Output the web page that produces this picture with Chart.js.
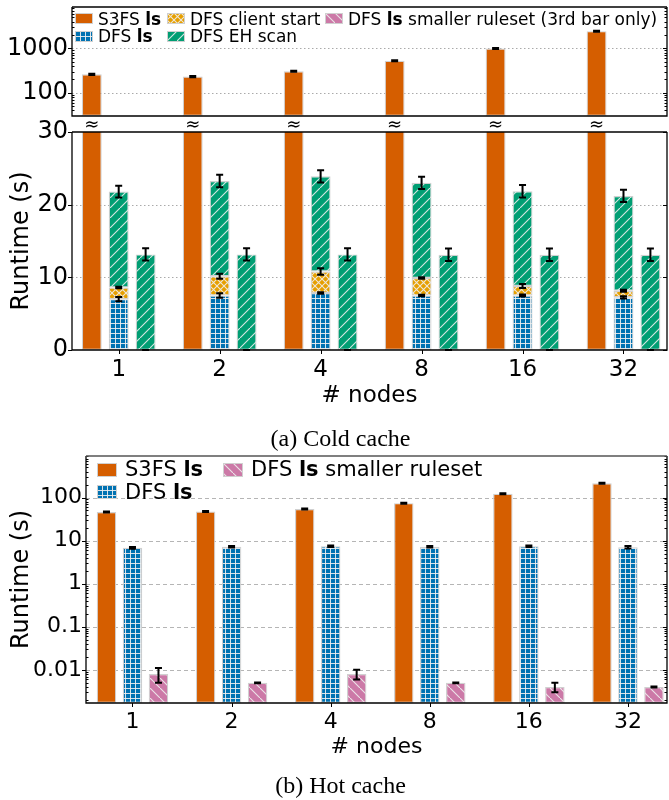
<!DOCTYPE html>
<html>
<head>
<meta charset="utf-8">
<script src="https://cdn.jsdelivr.net/npm/chart.js@4.4.1/dist/chart.umd.min.js"></script>
<style>
  html, body { margin: 0; padding: 0; background: #fff; }
  #page { position: relative; width: 669px; height: 800px; overflow: hidden; font-family: "DejaVu Sans", sans-serif; }
  #page canvas { position: absolute; left: 0; }
  .leg { position: absolute; white-space: nowrap; color: #000; z-index: 2; }
  .cap { position: absolute; left: 6px; width: 669px; text-align: center; font-family: "Liberation Serif", serif; font-size: 24px; line-height: 28px; color: #000; }
</style>
</head>
<body>
<div id="page">
  <canvas id="coldTop" width="669" height="120" style="top:0"></canvas>
  <canvas id="coldMain" width="669" height="300" style="top:118px"></canvas>
  <div class="cap" style="top:424px">(a) Cold cache</div>
  <canvas id="hot" width="669" height="312" style="top:448px"></canvas>
  <div class="cap" style="top:771px">(b) Hot cache</div>
</div>
<script>
const nodes = ['1', '2', '4', '8', '16', '32'];

// (a) cold cache, seconds
const coldS3fs = [261, 232, 305, 530, 1000, 2455];
const coldS3fsErr = [8, 7, 8, 14, 25, 60];
const coldDfsLs = [7.0, 7.5, 7.85, 7.5, 7.5, 7.25];
const coldDfsLsErr = [0.3, 0.3, 0.1, 0.1, 0.15, 0.15];
const coldClientStart = [1.6, 2.65, 2.95, 2.4, 1.3, 0.9];
const coldClientStartErr = [0.1, 0.35, 0.45, 0.1, 0.27, 0.15];
const coldEhScan = [13.2, 13.1, 13.1, 13.1, 13.05, 13.05];
const coldEhScanErr = [0.8, 0.85, 0.85, 0.85, 0.85, 0.85];
const coldSmall = [0.008, 0.005, 0.008, 0.005, 0.004, 0.004];
const coldSmallErr = [0.003, 0.0002, 0.002, 0.0002, 0.001, 0.0002];
const coldEhScan3 = [13.15, 13.15, 13.15, 13.1, 13.1, 13.1];
const coldEhScan3Err = [0.85, 0.85, 0.85, 0.85, 0.85, 0.85];

// (b) hot cache, seconds
const hotS3fs = [46, 47.5, 54, 74, 122, 215];
const hotS3fsErr = [1.2, 1.2, 1.5, 2, 3, 6];
const hotDfsLs = [6.8, 7.2, 7.4, 7.2, 7.4, 7.0];
const hotDfsLsErr = [0.35, 0.3, 0.3, 0.3, 0.3, 0.45];
const hotSmall = [0.008, 0.005, 0.008, 0.005, 0.004, 0.004];
const hotSmallErr = [0.003, 0.0001, 0.002, 0.0001, 0.001, 0.0001];

const topTicks = [100, 1000];
const topTickLabels = ['100', '1000'];
const midTicks = [0, 10, 20, 30];
const midTickLabels = ['0', '10', '20', '30'];
const hotTicks = [0.01, 0.1, 1, 10, 100];
const hotTickLabels = ['0.01', '0.1', '1', '10', '100'];

const C_ORANGE = '#d55e00', C_BLUE = '#0072b2', C_YELLOW = '#e69f00', C_GREEN = '#009e73', C_PINK = '#cc79a7';
const EDGE = '#d0d0d0';
const HATCH = 'rgba(240,240,240,0.9)';
const FONT = 'DejaVu Sans';

function makeHatch(color, kind) {
  const s = kind === 'grid' ? 5 : kind === 'cross' ? 7 : 10;
  const t = document.createElement('canvas');
  t.width = s; t.height = s;
  const g = t.getContext('2d');
  g.fillStyle = color;
  g.fillRect(0, 0, s, s);
  g.fillStyle = HATCH;
  g.strokeStyle = HATCH;
  g.lineWidth = 1.1;
  if (kind === 'grid') {
    g.fillRect(0, 0, s, 1);
    g.fillRect(0, 0, 1, s);
  } else {
    g.beginPath();
    if (kind === 'fwd' || kind === 'cross') { g.moveTo(-1, s + 1); g.lineTo(s + 1, -1); }
    if (kind === 'back' || kind === 'cross') { g.moveTo(-1, -1); g.lineTo(s + 1, s + 1); }
    g.stroke();
  }
  return g.createPattern(t, 'repeat');
}

const fills = {
  orange: C_ORANGE,
  blue: makeHatch(C_BLUE, 'grid'),
  yellow: makeHatch(C_YELLOW, 'cross'),
  green: makeHatch(C_GREEN, 'fwd'),
  pink: makeHatch(C_PINK, 'back'),
};

function pts(arr) {
  return arr.map((v, i) => ({ x: i, y: v }));
}

function ds(label, data, errs, fill, stack, cp, bp) {
  return {
    label, data: pts(data), errs, stack,
    backgroundColor: fill, borderColor: EDGE, borderWidth: 1.2, borderSkipped: false,
    categoryPercentage: cp, barPercentage: bp, clip: 0,
  };
}

function coldSets() {
  return [
    ds('S3FS ls', coldS3fs, coldS3fsErr, fills.orange, 'a', 0.8, 0.74),
    ds('DFS ls', coldDfsLs, coldDfsLsErr, fills.blue, 'b', 0.8, 0.74),
    ds('DFS client start', coldClientStart, coldClientStartErr, fills.yellow, 'b', 0.8, 0.74),
    ds('DFS EH scan', coldEhScan, coldEhScanErr, fills.green, 'b', 0.8, 0.74),
    ds('DFS ls smaller ruleset (3rd bar only)', coldSmall, coldSmallErr, fills.pink, 'c', 0.8, 0.74),
    ds('DFS EH scan', coldEhScan3, coldEhScan3Err, fills.green, 'c', 0.8, 0.74),
  ];
}

function minorValues(s) {
  const out = [];
  if (s.type !== 'logarithmic') return out;
  for (let e = Math.floor(Math.log10(s.min)); e <= Math.ceil(Math.log10(s.max)); e++) {
    for (let m = 2; m <= 9; m++) {
      const v = m * Math.pow(10, e);
      if (v > s.min && v < s.max) out.push(v);
    }
  }
  return out;
}

// grid, frame, tick marks, error bars and the axis-break marks
const panelDeco = {
  id: 'panelDeco',
  beforeDatasetsDraw(chart, args, o) {
    const { ctx, chartArea: a, scales: { y } } = chart;
    ctx.save();
    ctx.strokeStyle = o.gridColor;
    ctx.lineWidth = 1;
    ctx.setLineDash(o.dash);
    y.ticks.forEach(t => {
      const py = Math.round(y.getPixelForValue(t.value)) + 0.5;
      if (py < a.top + 1 || py > a.bottom - 1) return;
      ctx.beginPath(); ctx.moveTo(a.left, py); ctx.lineTo(a.right, py); ctx.stroke();
    });
    ctx.restore();
  },
  afterDatasetsDraw(chart, args, o) {
    const { ctx, chartArea: a, scales: { x, y } } = chart;
    const sets = chart.data.datasets;
    ctx.save();
    ctx.setLineDash([]);
    // error bars
    ctx.strokeStyle = '#000';
    ctx.lineWidth = 2;
    sets.forEach((set, d) => {
      const meta = chart.getDatasetMeta(d);
      set.data.forEach((p, i) => {
        let top = 0;
        for (let k = 0; k <= d; k++) if (sets[k].stack === set.stack) top += sets[k].data[i].y;
        if (top < y.min || top > y.max) return;
        const e = set.errs[i];
        const px = meta.data[i].x;
        const y1 = y.getPixelForValue(Math.max(top - e, y.min));
        const y2 = y.getPixelForValue(Math.min(top + e, y.max));
        ctx.beginPath();
        ctx.moveTo(px, y1); ctx.lineTo(px, y2);
        ctx.moveTo(px - 3.5, y1); ctx.lineTo(px + 3.5, y1);
        ctx.moveTo(px - 3.5, y2); ctx.lineTo(px + 3.5, y2);
        ctx.stroke();
      });
    });
    // tick marks
    ctx.lineWidth = 1;
    ctx.beginPath();
    y.ticks.forEach(t => {
      const py = Math.round(y.getPixelForValue(t.value)) + 0.5;
      ctx.moveTo(a.left - 4, py); ctx.lineTo(a.left, py);
      ctx.moveTo(a.right - 4, py); ctx.lineTo(a.right, py);
    });
    minorValues(y).forEach(v => {
      const py = Math.round(y.getPixelForValue(v)) + 0.5;
      ctx.moveTo(a.left, py); ctx.lineTo(a.left + 2.5, py);
      ctx.moveTo(a.right - 2.5, py); ctx.lineTo(a.right, py);
    });
    if (o.xTicks) {
      x.ticks.forEach(t => {
        const px = Math.round(x.getPixelForValue(t.value)) + 0.5;
        ctx.moveTo(px, a.bottom); ctx.lineTo(px, a.bottom + 4);
      });
    }
    ctx.stroke();
    // spines
    ctx.lineWidth = 1.3;
    ctx.strokeStyle = '#000';
    ctx.beginPath();
    ctx.moveTo(a.left, a.top); ctx.lineTo(a.left, a.bottom); ctx.lineTo(a.right, a.bottom); ctx.lineTo(a.right, a.top);
    ctx.stroke();
    ctx.strokeStyle = o.topColor;
    ctx.beginPath(); ctx.moveTo(a.left, a.top); ctx.lineTo(a.right, a.top); ctx.stroke();
    // axis break marks above the clipped S3FS bars
    if (o.approx) {
      ctx.fillStyle = '#000';
      ctx.font = '18px "' + FONT + '"';
      ctx.textAlign = 'center';
      ctx.textBaseline = 'middle';
      chart.getDatasetMeta(0).data.forEach(el => ctx.fillText('\u2248', el.x, a.top - 7));
    }
    ctx.restore();
  },
};

function noEdgePadding(s) {
  s.paddingTop = 0; s.paddingBottom = 0; s.paddingLeft = 0; s.paddingRight = 0;
}

function xScale(min, max, show, size, h, tickPad, titlePad) {
  return {
    type: 'linear', min, max, offset: false, bounds: 'data', display: show,
    grid: { display: false, drawTicks: false },
    border: { display: false },
    afterBuildTicks: s => { s.ticks = nodes.map((n, i) => ({ value: i })); },
    afterFit: s => { if (show) s.height = h; noEdgePadding(s); },
    ticks: {
      callback: (v, i) => nodes[i], color: '#000', padding: tickPad,
      autoSkip: false, maxRotation: 0, font: { family: FONT, size },
    },
    title: {
      display: show, text: '# nodes', color: '#000',
      font: { family: FONT, size }, padding: { top: 0, bottom: titlePad },
    },
  };
}

function yScale(type, min, max, ticks, labels, size, width, title) {
  return {
    type, min, max, bounds: 'data', stacked: true,
    grid: { display: false, drawTicks: false },
    border: { display: false },
    afterBuildTicks: s => { s.ticks = ticks.map(v => ({ value: v })); },
    afterFit: s => { s.width = width; noEdgePadding(s); },
    ticks: { callback: (v, i) => labels[i], color: '#000', padding: 4, autoSkip: false, font: { family: FONT, size } },
    title: {
      display: title, text: 'Runtime (s)', color: '#000',
      font: { family: FONT, size: 24 }, padding: { top: 7, bottom: 0 },
    },
  };
}

function barChart(id, sets, pad, x, y, deco) {
  return new Chart(document.getElementById(id), {
    type: 'bar',
    data: { datasets: sets },
    options: {
      responsive: false, animation: false, devicePixelRatio: 1,
      layout: { padding: pad },
      plugins: { legend: { display: false }, tooltip: { enabled: false }, panelDeco: deco },
      scales: { x, y },
    },
    plugins: [panelDeco],
  });
}

// (a) upper part: log scale for the S3FS bars
barChart('coldTop', coldSets(),
  { top: 7, right: 2, bottom: 4, left: 0 },
  xScale(-0.4626, 5.431, false, 23, 0, 0, 0),
  yScale('logarithmic', 30, 8600, topTicks, topTickLabels, 24, 72, false),
  { gridColor: '#aaaaaa', dash: [1.5, 2.5], topColor: '#000', xTicks: false, approx: false });

// (a) lower part: linear scale, DFS breakdown
barChart('coldMain', coldSets(),
  { top: 14, right: 2, bottom: 0, left: 0 },
  xScale(-0.4626, 5.431, true, 23, 68, 6, 8),
  yScale('linear', 0, 30, midTicks, midTickLabels, 24, 72, true),
  { gridColor: '#aaaaaa', dash: [1.5, 2.5], topColor: '#000', xTicks: true, approx: true });

// (b) hot cache
barChart('hot', [
    ds('S3FS ls', hotS3fs, hotS3fsErr, fills.orange, 'a', 0.787, 0.75),
    ds('DFS ls', hotDfsLs, hotDfsLsErr, fills.blue, 'b', 0.787, 0.75),
    ds('DFS ls smaller ruleset', hotSmall, hotSmallErr, fills.pink, 'c', 0.787, 0.75),
  ],
  { top: 8, right: 2, bottom: 0, left: 0 },
  xScale(-0.469, 5.394, true, 22, 57, 6, 0),
  yScale('logarithmic', 0.0017, 920, hotTicks, hotTickLabels, 22, 86, true),
  { gridColor: '#b5b5b5', dash: [4, 3], topColor: '#555', xTicks: true, approx: false });

// legends (HTML so "ls" can be bold)
function legend(items, cfg) {
  const page = document.getElementById('page');
  items.forEach(it => {
    const sw = document.createElement('canvas');
    sw.width = cfg.sw; sw.height = cfg.sh;
    sw.style.left = it.x + 'px';
    sw.style.top = (cfg.rows[it.row] - cfg.sh / 2) + 'px';
    sw.style.zIndex = 2;
    const g = sw.getContext('2d');
    g.fillStyle = it.fill;
    g.fillRect(0, 0, cfg.sw, cfg.sh);
    g.strokeStyle = EDGE;
    g.lineWidth = 1;
    g.strokeRect(0.5, 0.5, cfg.sw - 1, cfg.sh - 1);
    page.appendChild(sw);
    const t = document.createElement('div');
    t.className = 'leg';
    t.innerHTML = it.html;
    t.style.left = (it.x + cfg.gap) + 'px';
    t.style.top = (cfg.rows[it.row] - cfg.lh / 2) + 'px';
    t.style.fontSize = cfg.size + 'px';
    t.style.lineHeight = cfg.lh + 'px';
    page.appendChild(t);
  });
}

legend([
  { html: 'S3FS <b>ls</b>', fill: fills.orange, x: 75, row: 0 },
  { html: 'DFS <b>ls</b>', fill: fills.blue, x: 75, row: 1 },
  { html: 'DFS client start', fill: fills.yellow, x: 167, row: 0 },
  { html: 'DFS EH scan', fill: fills.green, x: 167, row: 1 },
  { html: 'DFS <b>ls</b> smaller ruleset (3rd bar only)', fill: fills.pink, x: 325, row: 0 },
], { rows: [18.8, 36.4], sw: 18, sh: 11, gap: 23, size: 17, lh: 20 });

legend([
  { html: 'S3FS <b>ls</b>', fill: fills.orange, x: 97, row: 0 },
  { html: 'DFS <b>ls</b>', fill: fills.blue, x: 97, row: 1 },
  { html: 'DFS <b>ls</b> smaller ruleset', fill: fills.pink, x: 223, row: 0 },
], { rows: [469.8, 492.2], sw: 20, sh: 14, gap: 28, size: 21, lh: 25 });
</script>
</body>
</html>
